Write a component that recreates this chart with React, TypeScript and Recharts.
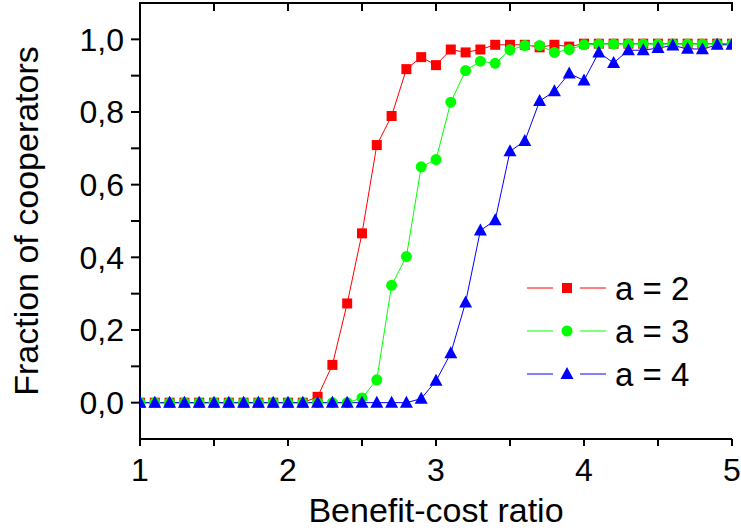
import React from "react";
import { Line, LineChart, XAxis, YAxis } from "recharts";

// benefit-cost ratio b/c, sampled every 0.1
const ratio = [
  1.0, 1.1, 1.2, 1.3, 1.4, 1.5, 1.6, 1.7, 1.8, 1.9, 2.0, 2.1, 2.2, 2.3, 2.4,
  2.5, 2.6, 2.7, 2.8, 2.9, 3.0, 3.1, 3.2, 3.3, 3.4, 3.5, 3.6, 3.7, 3.8, 3.9,
  4.0, 4.1, 4.2, 4.3, 4.4, 4.5, 4.6, 4.7, 4.8, 4.9, 5.0,
];

// fraction of cooperators
const coopA2 = [
  0, 0, 0, 0, 0, 0, 0, 0, 0, 0, 0, 0, 0.016, 0.104, 0.273, 0.466, 0.709, 0.789,
  0.918, 0.951, 0.929, 0.972, 0.964, 0.972, 0.985, 0.985, 0.985, 0.978, 0.985,
  0.98, 0.988, 0.988, 0.988, 0.988, 0.988, 0.988, 0.988, 0.988, 0.988, 0.988,
  0.988,
];
const coopA3 = [
  0, 0, 0, 0, 0, 0, 0, 0, 0, 0, 0, 0, 0, 0, 0, 0.013, 0.063, 0.323, 0.402,
  0.649, 0.669, 0.827, 0.914, 0.94, 0.934, 0.971, 0.983, 0.983, 0.964, 0.972,
  0.985, 0.987, 0.987, 0.987, 0.987, 0.987, 0.987, 0.987, 0.987, 0.987, 0.987,
];
const coopA4 = [
  0, 0, 0, 0, 0, 0, 0, 0, 0, 0, 0, 0, 0, 0, 0, 0, 0, 0, 0, 0.011, 0.06, 0.136,
  0.276, 0.474, 0.502, 0.692, 0.72, 0.83, 0.857, 0.906, 0.887, 0.964, 0.935,
  0.97, 0.97, 0.976, 0.983, 0.974, 0.973, 0.985, 0.985,
];

const seriesLabels = ["a = 2", "a = 3", "a = 4"];
const seriesColors = ["#ff0000", "#00ff00", "#0000ff"];

const xDomain = [1, 5];
const yDomain = [-0.1, 1.1];
const xTicks = [1, 1.5, 2, 2.5, 3, 3.5, 4, 4.5, 5];
const yTicks = [0, 0.1, 0.2, 0.3, 0.4, 0.5, 0.6, 0.7, 0.8, 0.9, 1.0];

const W = 741;
const H = 531;
const PLOT = { left: 140, right: 732, top: 3 };

const FONT = "'Liberation Sans', Arial, sans-serif";

const data = ratio.map((x, i) => ({
  x,
  a2: coopA2[i],
  a3: coopA3[i],
  a4: coopA4[i],
}));

function fmtX(v: number) {
  return Number.isInteger(v) ? String(v) : "";
}

function fmtY(v: number) {
  if (Math.round(v * 10) % 2 !== 0) return "";
  return v.toFixed(1).replace(".", ",");
}

type Marker = "square" | "circle" | "triangle";

function drawMarker(kind: Marker, cx: number, cy: number, fill: string, key?: string) {
  if (kind === "square") {
    return <rect key={key} x={cx - 5} y={cy - 5} width={10} height={10} fill={fill} />;
  }
  if (kind === "circle") {
    return <circle key={key} cx={cx} cy={cy} r={5.5} fill={fill} />;
  }
  return (
    <polygon
      key={key}
      points={`${cx},${cy - 7} ${cx - 6.5},${cy + 5} ${cx + 6.5},${cy + 5}`}
      fill={fill}
    />
  );
}

const markers: Marker[] = ["square", "circle", "triangle"];

function dotFor(idx: number) {
  return (p: any) => {
    if (p.cx == null || p.cy == null) return <g key={`e-${idx}-${p.index}`} />;
    return drawMarker(markers[idx], p.cx, p.cy, seriesColors[idx], `d-${idx}-${p.index}`);
  };
}

const noTick = () => <g />;

// top frame with inward ticks + legend, drawn over the chart
function Overlay() {
  const rowY = [288, 331, 374];
  const span = PLOT.right - PLOT.left;
  const tickX = (v: number) => PLOT.left + ((v - xDomain[0]) / (xDomain[1] - xDomain[0])) * span;
  return (
    <svg
      width={W}
      height={H}
      style={{ position: "absolute", left: 0, top: 0, pointerEvents: "none" }}
    >
      <line
        x1={PLOT.left - 1}
        x2={PLOT.right + 1}
        y1={PLOT.top}
        y2={PLOT.top}
        stroke="#000"
        strokeWidth={2}
      />
      {xTicks.map((v) => (
        <line
          key={v}
          x1={tickX(v)}
          x2={tickX(v)}
          y1={PLOT.top}
          y2={PLOT.top + 8}
          stroke="#000"
          strokeWidth={2}
        />
      ))}
      {seriesLabels.map((name, i) => (
        <g key={name}>
          <line x1={527} x2={553} y1={rowY[i]} y2={rowY[i]} stroke={seriesColors[i]} strokeWidth={1} />
          <line x1={580} x2={606} y1={rowY[i]} y2={rowY[i]} stroke={seriesColors[i]} strokeWidth={1} />
          {drawMarker(markers[i], 567, rowY[i], seriesColors[i])}
          <text x={615} y={rowY[i] + 12} fontSize={33} fontFamily={FONT} fill="#000">
            {name}
          </text>
        </g>
      ))}
    </svg>
  );
}

export default function App() {
  const axisStroke = { stroke: "#000", strokeWidth: 2 };
  const tickStyle = { fontSize: 32, fill: "#000", fontFamily: FONT };
  return (
    <div
      style={{
        position: "absolute",
        left: 0,
        top: 0,
        width: W,
        height: H,
        background: "#fff",
      }}
    >
      <LineChart
        width={W}
        height={H}
        data={data}
        margin={{ top: PLOT.top, right: W - PLOT.right, bottom: 0, left: 0 }}
      >
        <XAxis
          dataKey="x"
          type="number"
          domain={xDomain}
          ticks={xTicks}
          tickFormatter={fmtX}
          height={92}
          tickSize={7}
          tickMargin={12}
          axisLine={axisStroke}
          tickLine={axisStroke}
          tick={tickStyle}
          interval={0}
          allowDataOverflow
          label={{
            value: "Benefit-cost ratio",
            position: "insideBottom",
            offset: 9,
            style: { fontSize: 34, fill: "#000", fontFamily: FONT },
          }}
        />
        <YAxis
          type="number"
          domain={yDomain}
          ticks={yTicks}
          tickFormatter={fmtY}
          width={PLOT.left}
          tickSize={9}
          tickMargin={7}
          axisLine={axisStroke}
          tickLine={axisStroke}
          tick={tickStyle}
          interval={0}
          allowDataOverflow
          label={{
            value: "Fraction of cooperators",
            angle: -90,
            position: "insideLeft",
            offset: 26,
            style: { fontSize: 34, fill: "#000", fontFamily: FONT, textAnchor: "middle" },
          }}
        />
        <YAxis
          yAxisId="right"
          orientation="right"
          type="number"
          domain={yDomain}
          ticks={yTicks}
          width={0}
          mirror
          tickSize={8}
          axisLine={axisStroke}
          tickLine={axisStroke}
          tick={noTick}
          interval={0}
          allowDataOverflow
        />
        <Line
          dataKey="a2"
          type="linear"
          stroke={seriesColors[0]}
          strokeWidth={1}
          dot={dotFor(0)}
          activeDot={false}
          isAnimationActive={false}
        />
        <Line
          dataKey="a3"
          type="linear"
          stroke={seriesColors[1]}
          strokeWidth={1}
          dot={dotFor(1)}
          activeDot={false}
          isAnimationActive={false}
        />
        <Line
          dataKey="a4"
          type="linear"
          stroke={seriesColors[2]}
          strokeWidth={1}
          dot={dotFor(2)}
          activeDot={false}
          isAnimationActive={false}
        />
      </LineChart>
      <Overlay />
    </div>
  );
}
